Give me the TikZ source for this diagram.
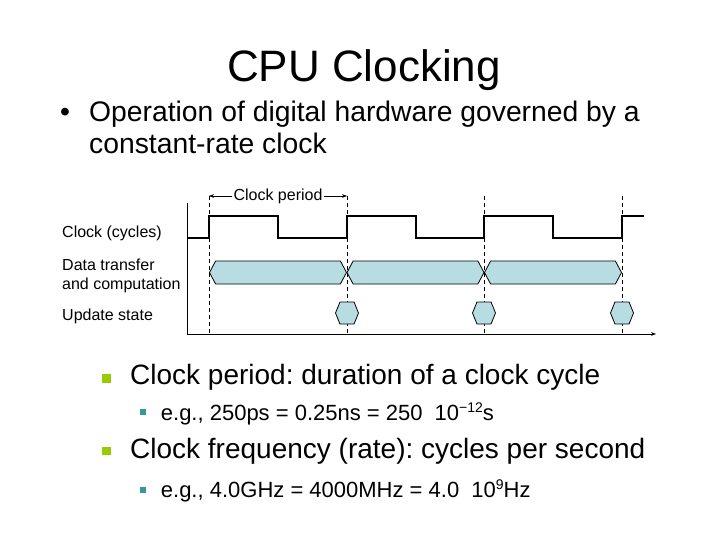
\documentclass[tikz,border=0pt]{standalone}
\usepackage{fontspec}
\setmainfont{Liberation Sans}
\frenchspacing
\usetikzlibrary{shapes.symbols, arrows.meta, positioning, calc}
\definecolor{bandfill}{RGB}{183,221,227}
\definecolor{bulletgreen}{RGB}{153,204,0}
\definecolor{bulletteal}{RGB}{51,153,153}
\newcommand{\smallsup}[1]{\raisebox{0.36em}{\fontsize{14}{14}\selectfont #1}}
\tikzstyle{titletext} = [anchor=base, inner sep=0pt, font=\fontsize{44}{48}\selectfont]
\tikzstyle{toptext} = [anchor=base west, inner sep=0pt, align=left, font=\fontsize{28.3}{31.6}\selectfont]
\tikzstyle{subtext} = [anchor=base west, inner sep=0pt, font=\fontsize{28}{32}\selectfont]
\tikzstyle{subsubtext} = [anchor=base west, inner sep=0pt, font=\fontsize{22}{26}\selectfont]
\tikzstyle{greenbox} = [rectangle, fill=bulletgreen, minimum size=8.5pt, inner sep=0pt]
\tikzstyle{tealbox} = [rectangle, fill=bulletteal, minimum size=6pt, inner sep=0pt]
\tikzstyle{rowlabel} = [anchor=base west, inner sep=0pt, align=left, font=\fontsize{16}{19.3}\selectfont]
\tikzstyle{band} = [signal, signal to=east and west, signal pointer angle=124, draw=black, line width=0.8pt, fill=bandfill, minimum width=137pt, minimum height=23pt, inner sep=0pt]
\tikzstyle{updhex} = [signal, signal to=east and west, signal pointer angle=136, draw=black, line width=0.8pt, fill=bandfill, minimum width=23pt, minimum height=22pt, inner sep=0pt]
\tikzstyle{clock} = [line width=1.7pt, line join=miter]
\tikzstyle{edge} = [dash pattern=on 4pt off 3pt, line width=0.7pt]
\tikzstyle{arrow} = [line width=0.8pt, -{Stealth[length=5pt]}]

\begin{document}
\begin{tikzpicture}[x=1pt, y=-1pt]
\useasboundingbox (0,0) rectangle (728,546);

% --- Title and first bullet ---
\node (title) [titletext] at (364,81.7) {CPU Clocking};
\node (dot) [toptext] at (60,121.7) {•};
% base of a two-line node is its last line
\node (intro) [toptext] at (89,153.3) {Operation of digital hardware governed by a\\constant-rate clock};

% --- Timing diagram ---
\coordinate (origin) at (187,334);
\coordinate (ytop) at (187,203);
\coordinate (xend) at (656,334);
\draw [line width=0.8pt] (ytop) -- (origin);
\draw [arrow] (origin) -- (xend);

% clock edges
\foreach \x [count=\i from 0] in {209,347,484,622} {
  \coordinate (e\i) at (\x,196);
  \draw [edge] (e\i) -- (e\i |- origin);
}

% row labels
\node (lclock) [rowlabel] at (62,237.3) {Clock (cycles)};
\node (ldata) [rowlabel] at (62,289.3) {Data transfer\\and computation};
\node (lupd) [rowlabel] at (62,320) {Update state};

% clock waveform
\draw [clock] (origin |- 0,238) \foreach \x in {209,347,484} { -- (\x,238) -- (\x,216) -- (\x+69,216) -- (\x+69,238) } -- (622,238) -- (622,216) -- (644,216);

% data transfer bands
\node (band1) [band] at (278,272.5) {};
\node (band2) [band] at (415.5,272.5) {};
\node (band3) [band] at (553,272.5) {};

% update state
\node (upd1) [updhex] at (347,313) {};
\node (upd2) [updhex] at (484,313) {};
\node (upd3) [updhex] at (622,313) {};

% period marker
\node (period) [font=\fontsize{16}{19}\selectfont, fill=white, inner sep=1pt] at (278,196) {Clock period};
\draw [arrow] (period) -- (e0);
\draw [arrow] (period) -- (e1);

% --- Lower bullets ---
\node (b1) [greenbox] at (106.7,378.3) {};
\node (t1) [subtext] at (130,384) {Clock period: duration of a clock cycle};
\node (b2) [tealbox] at (142.5,412.3) {};
\node (t2) [subsubtext] at (160.7,420) {e.g., 250ps = 0.25ns = 250\hspace{0.55em}10\smallsup{−12}s};
\node (b3) [greenbox] at (106.7,451) {};
\node (t3) [subtext] at (130,458.7) {Clock frequency (rate): cycles per second};
\node (b4) [tealbox] at (142.5,490) {};
\node (t4) [subsubtext] at (160.7,497.3) {e.g., 4.0GHz = 4000MHz = 4.0\hspace{0.55em}10\smallsup{9}Hz};

\end{tikzpicture}
\end{document}
